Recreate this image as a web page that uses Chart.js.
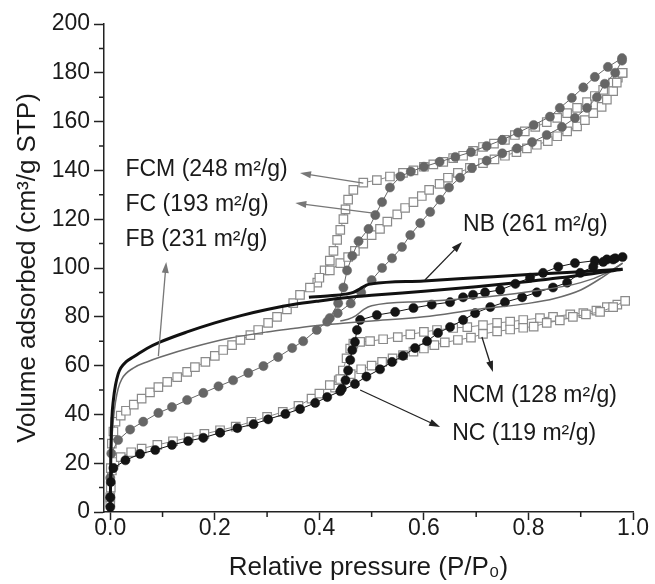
<!DOCTYPE html>
<html>
<head>
<meta charset="utf-8">
<script src="https://cdn.jsdelivr.net/npm/chart.js@4"></script>
<style>
  html, body { margin: 0; padding: 0; background: #fff; }
  canvas { display: block; }
</style>
</head>
<body>
<canvas id="isotherm" width="655" height="584"></canvas>
<script>
// [P/P0, volume adsorbed], one array per branch
const fcmAds = [[0, 6], [0.001, 18], [0.003, 28], [0.006, 33], [0.01, 37], [0.02, 39.5], [0.03, 41.5], [0.045, 44], [0.06, 46.5], [0.076, 49], [0.092, 51.2], [0.109, 53.3], [0.128, 55.3], [0.147, 57.4], [0.162, 59.4], [0.182, 61.5], [0.2, 64], [0.216, 66.4], [0.233, 68.4], [0.249, 70.5], [0.268, 72.5], [0.283, 74.6], [0.302, 77.5], [0.319, 80], [0.338, 83], [0.35, 85.6], [0.363, 89], [0.382, 92], [0.4, 96], [0.42, 99], [0.44, 102], [0.455, 104.5], [0.468, 107], [0.484, 110], [0.5, 113.5], [0.516, 116], [0.53, 119], [0.549, 122], [0.564, 124.6], [0.58, 127], [0.596, 129.5], [0.61, 132], [0.63, 134.5], [0.646, 137], [0.665, 139], [0.688, 141], [0.713, 143], [0.735, 144.5], [0.755, 146], [0.777, 147.5], [0.797, 149], [0.816, 150.5], [0.837, 152], [0.855, 154], [0.874, 156], [0.893, 158], [0.908, 160.6], [0.924, 163.5], [0.94, 166], [0.95, 169], [0.962, 172.5], [0.969, 176], [0.98, 180]];
const fcmDes = [[0.396, 94], [0.41, 99], [0.42, 103], [0.427, 107], [0.434, 111.5], [0.44, 115.6], [0.446, 120], [0.45, 124], [0.455, 128], [0.465, 132], [0.484, 135], [0.51, 136], [0.535, 137.5], [0.56, 139], [0.58, 140], [0.6, 141.5], [0.618, 142.5], [0.637, 143.5], [0.656, 145], [0.675, 146], [0.694, 148], [0.713, 149.6], [0.734, 151], [0.755, 152.5], [0.774, 154.5], [0.793, 156], [0.813, 157.8], [0.835, 159.8], [0.855, 161.5], [0.874, 163.5], [0.893, 165.6], [0.912, 168], [0.927, 170.5], [0.943, 173], [0.962, 176], [0.971, 178], [0.98, 180]];

const fcAds = [[0, 6], [0, 14], [0.002, 24], [0.015, 29.5], [0.038, 33.8], [0.063, 37], [0.092, 40.6], [0.118, 43], [0.147, 45.9], [0.178, 48.8], [0.207, 51.5], [0.235, 54], [0.264, 57], [0.293, 59.8], [0.321, 63.5], [0.348, 67.2], [0.369, 70], [0.395, 74.6], [0.415, 78], [0.435, 81.5], [0.46, 85.5], [0.48, 90], [0.5, 95], [0.52, 100], [0.539, 104], [0.558, 108.6], [0.574, 113.5], [0.593, 118.4], [0.612, 123], [0.631, 128], [0.648, 133], [0.669, 137], [0.692, 141], [0.72, 144], [0.75, 147], [0.778, 149], [0.807, 151.6], [0.835, 154.5], [0.864, 157.8], [0.889, 161.5], [0.912, 165.6], [0.931, 170], [0.946, 175.5], [0.966, 180], [0.979, 185]];
const fcDes = [[0.42, 79.5], [0.436, 85.6], [0.446, 92], [0.453, 99], [0.463, 105], [0.475, 111], [0.494, 116], [0.507, 121.7], [0.52, 127], [0.535, 133], [0.555, 137.5], [0.575, 139.5], [0.6, 141.5], [0.63, 143.5], [0.66, 145.5], [0.69, 147.5], [0.72, 150], [0.75, 152.5], [0.78, 155.5], [0.81, 158.6], [0.841, 162], [0.86, 165.6], [0.883, 169.7], [0.905, 174], [0.927, 178.3], [0.952, 182.4], [0.979, 186]];

const ncAds = [[0, 2], [0, 6], [0.001, 12.3], [0.006, 18], [0.029, 21.2], [0.057, 23.8], [0.086, 25.4], [0.118, 27.5], [0.149, 29.1], [0.178, 30.4], [0.21, 32.5], [0.243, 34.4], [0.274, 36], [0.302, 38], [0.335, 40.2], [0.363, 42.2], [0.392, 44.7], [0.415, 47.1], [0.44, 49.5], [0.468, 52.5], [0.49, 55.5], [0.516, 58.5], [0.539, 61.5], [0.56, 64], [0.583, 67.2], [0.606, 70], [0.627, 73.4], [0.65, 75.8], [0.675, 78.7], [0.698, 81.5], [0.727, 84], [0.755, 86], [0.788, 88], [0.816, 90], [0.847, 92], [0.874, 94], [0.899, 98], [0.924, 100.5], [0.943, 102.5], [0.962, 103.5], [0.98, 104.5]];
const ncDes = [[0.443, 50.5], [0.45, 54], [0.455, 58], [0.459, 62.3], [0.463, 66.4], [0.468, 69.7], [0.472, 74.6], [0.478, 78.7], [0.51, 80.7], [0.545, 82], [0.58, 83.6], [0.615, 85], [0.65, 86], [0.675, 88], [0.694, 89], [0.717, 90], [0.746, 91], [0.775, 93.5], [0.803, 96], [0.828, 98], [0.857, 100.5], [0.889, 102], [0.927, 103], [0.95, 103.5], [0.966, 104]];

const ncmAds = [[0, 4], [0.001, 10], [0.003, 17], [0.008, 20.5], [0.02, 22.5], [0.04, 24.5], [0.06, 26], [0.09, 27.5], [0.12, 29], [0.15, 30.5], [0.18, 32], [0.21, 33.5], [0.24, 35], [0.27, 37], [0.3, 39], [0.33, 41], [0.36, 43.5], [0.385, 46.5], [0.4, 48.5], [0.42, 52], [0.44, 54.5], [0.46, 56.5], [0.48, 58.5], [0.5, 60], [0.52, 61.5], [0.54, 63], [0.56, 64.3], [0.58, 65.7], [0.6, 67], [0.62, 68.4], [0.64, 69.5], [0.665, 70.5], [0.69, 71.5], [0.713, 73], [0.74, 74], [0.765, 74.8], [0.79, 75.5], [0.81, 76], [0.835, 77.5], [0.86, 78.5], [0.885, 80], [0.91, 81], [0.937, 82], [0.962, 84], [0.985, 86.5]];
const ncmDes = [[0.43, 51], [0.437, 54], [0.445, 58], [0.452, 63], [0.459, 67], [0.465, 69], [0.478, 69.7], [0.497, 70], [0.522, 70.8], [0.55, 71.7], [0.574, 72.8], [0.6, 73.8], [0.625, 74.6], [0.656, 75.4], [0.683, 75.8], [0.713, 76.6], [0.74, 77.5], [0.765, 78], [0.79, 78.7], [0.822, 79.5], [0.847, 80], [0.88, 81], [0.905, 81.5], [0.93, 82.5], [0.95, 84], [0.97, 85]];

const nbAds = [[0, 0], [0.001, 22], [0.003, 38], [0.006, 46], [0.01, 52], [0.015, 56.5], [0.02, 59], [0.03, 61.5], [0.044, 63.5], [0.07, 67], [0.096, 69.7], [0.147, 73.8], [0.2, 77.5], [0.25, 80.5], [0.3, 83], [0.35, 85], [0.4, 86.5], [0.45, 87.8], [0.5, 88.8], [0.6, 90.5], [0.7, 92.3], [0.8, 94.5], [0.9, 97], [0.98, 99.5]];
const nbDes = [[0.38, 88], [0.42, 88.6], [0.45, 89.3], [0.465, 90], [0.478, 91.5], [0.49, 93], [0.5, 93.5], [0.6, 94.7], [0.7, 96], [0.8, 97.3], [0.9, 98.5], [0.98, 99.5]];

const fbAds = [[0, 0], [0.001, 15], [0.003, 29], [0.006, 38], [0.01, 45], [0.015, 50.5], [0.022, 54.5], [0.044, 59], [0.07, 61.5], [0.096, 63.5], [0.159, 67.6], [0.23, 71.3], [0.3, 73.8], [0.35, 75.2], [0.4, 76.5], [0.45, 77.5], [0.5, 78.3], [0.6, 80], [0.7, 83], [0.8, 85.5], [0.85, 87.5], [0.9, 91], [0.94, 96], [0.98, 102]];
const fbDes = [[0.44, 78.3], [0.455, 79], [0.47, 80.5], [0.485, 83], [0.5, 84.5], [0.6, 86.3], [0.7, 87.8], [0.8, 90.3], [0.9, 94], [0.95, 98], [0.98, 102]];

const xTicks = [0, 0.2, 0.4, 0.6, 0.8, 1.0];
const yTicks = [0, 20, 40, 60, 80, 100, 120, 140, 160, 180, 200];

// sample labels: text, where it starts, arrow tail on the curve, arrow head
const notes = [
    { text: 'FCM (248 m\u00b2/g)', at: [0.029, 137.7], tail: [0.484, 134.8], head: [0.363, 138.9], color: '#777' },
    { text: 'FC (193 m\u00b2/g)', at: [0.029, 123.4], tail: [0.503, 122.5], head: [0.354, 126.6], color: '#777' },
    { text: 'FB (231 m\u00b2/g)', at: [0.029, 109], tail: [0.092, 63.9], head: [0.107, 102.5], color: '#777' },
    { text: 'NB (261 m\u00b2/g)', at: [0.675, 115.2], tail: [0.602, 95.1], head: [0.673, 110.7], color: '#222' },
    { text: 'NCM (128 m\u00b2/g)', at: [0.654, 45.1], tail: [0.711, 71.7], head: [0.732, 57.4], color: '#222' },
    { text: 'NC (119 m\u00b2/g)', at: [0.654, 29.5], tail: [0.478, 50], head: [0.631, 34.8], color: '#222' }
];

const FONT = "'Liberation Sans', Arial, sans-serif";

function pts(arr) {
    return arr.map(p => ({ x: p[0], y: p[1] }));
}

function squares(arr) {
    return {
        data: pts(arr), showLine: true, tension: 0, clip: false,
        borderColor: '#8a8a8a', borderWidth: 1,
        pointStyle: 'rect', pointRadius: 6, pointBorderWidth: 1.2,
        pointBackgroundColor: '#fff', pointBorderColor: '#8a8a8a'
    };
}

function circles(arr, color) {
    return {
        data: pts(arr), showLine: true, tension: 0, clip: false,
        borderColor: color, borderWidth: 1,
        pointStyle: 'circle', pointRadius: 4.6, pointBorderWidth: 0.5,
        pointBackgroundColor: color, pointBorderColor: color
    };
}

function curve(arr, color, width) {
    return {
        data: pts(arr), showLine: true, clip: false,
        cubicInterpolationMode: 'monotone',
        borderColor: color, borderWidth: width, pointRadius: 0
    };
}

const extras = {
    id: 'extras',
    afterDraw(chart) {
        const ctx = chart.ctx;
        const x = chart.scales.x;
        const y = chart.scales.y;
        ctx.save();

        // minor ticks
        ctx.strokeStyle = '#222';
        ctx.lineWidth = 1.5;
        ctx.beginPath();
        for (let v = 10; v < 200; v += 20) {
            const py = y.getPixelForValue(v);
            ctx.moveTo(x.left, py);
            ctx.lineTo(x.left - 5, py);
        }
        for (let v = 0.1; v < 1; v += 0.2) {
            const px = x.getPixelForValue(v);
            ctx.moveTo(px, y.bottom);
            ctx.lineTo(px, y.bottom + 5);
        }
        ctx.stroke();

        // labels with arrows
        ctx.font = '23px ' + FONT;
        ctx.textBaseline = 'alphabetic';
        ctx.textAlign = 'left';
        notes.forEach(n => {
            const tx = x.getPixelForValue(n.tail[0]), ty = y.getPixelForValue(n.tail[1]);
            const hx = x.getPixelForValue(n.head[0]), hy = y.getPixelForValue(n.head[1]);
            const ang = Math.atan2(hy - ty, hx - tx);
            ctx.strokeStyle = n.color;
            ctx.fillStyle = n.color;
            ctx.lineWidth = 1.3;
            ctx.beginPath();
            ctx.moveTo(tx, ty);
            ctx.lineTo(hx - 8 * Math.cos(ang), hy - 8 * Math.sin(ang));
            ctx.stroke();
            ctx.beginPath();
            ctx.moveTo(hx, hy);
            ctx.lineTo(hx - 11 * Math.cos(ang) + 3.5 * Math.sin(ang), hy - 11 * Math.sin(ang) - 3.5 * Math.cos(ang));
            ctx.lineTo(hx - 11 * Math.cos(ang) - 3.5 * Math.sin(ang), hy - 11 * Math.sin(ang) + 3.5 * Math.cos(ang));
            ctx.closePath();
            ctx.fill();

            ctx.fillStyle = '#1a1a1a';
            ctx.fillText(n.text, x.getPixelForValue(n.at[0]), y.getPixelForValue(n.at[1]));
        });
        ctx.restore();
    }
};

new Chart(document.getElementById('isotherm'), {
    type: 'scatter',
    data: {
        datasets: [
            curve(nbAds, '#111', 3),
            curve(nbDes, '#111', 3),
            curve(fbAds, '#6a6a6a', 1.5),
            curve(fbDes, '#6a6a6a', 1.5),
            circles(ncAds, '#141414'),
            circles(ncDes, '#141414'),
            circles(fcAds, '#666'),
            circles(fcDes, '#666'),
            squares(fcmAds),
            squares(fcmDes),
            squares(ncmAds),
            squares(ncmDes)
        ]
    },
    options: {
        responsive: false,
        animation: false,
        layout: { padding: { top: 24, right: 22, left: 0, bottom: 0 } },
        plugins: {
            legend: { display: false },
            tooltip: { enabled: false }
        },
        scales: {
            x: {
                type: 'linear',
                min: -0.012,
                max: 1.0,
                afterFit: s => { s.height = 72; },
                afterBuildTicks: s => { s.ticks = xTicks.map(v => ({ value: v })); },
                border: { display: true, color: '#222', width: 1.5 },
                grid: { drawOnChartArea: false, drawTicks: true, tickLength: 8, tickColor: '#222', tickWidth: 1.5 },
                ticks: {
                    padding: -3,
                    color: '#1a1a1a',
                    font: { family: FONT, size: 23, lineHeight: 1 },
                    callback: v => v.toFixed(1)
                },
                title: {
                    display: true,
                    text: 'Relative pressure (P/P\u2080)',
                    color: '#1a1a1a',
                    font: { family: FONT, size: 26 },
                    padding: { top: 0, bottom: 1 }
                }
            },
            y: {
                type: 'linear',
                min: 0,
                max: 200,
                afterFit: s => { s.width = 104; },
                afterBuildTicks: s => { s.ticks = yTicks.map(v => ({ value: v })); },
                border: { display: true, color: '#222', width: 1.5 },
                grid: { drawOnChartArea: false, drawTicks: true, tickLength: 10, tickColor: '#222', tickWidth: 1.5 },
                ticks: {
                    padding: 4,
                    color: '#1a1a1a',
                    font: { family: FONT, size: 23 }
                },
                title: {
                    display: true,
                    text: 'Volume adsorbed (cm\u00b3/g STP)',
                    color: '#1a1a1a',
                    font: { family: FONT, size: 26 },
                    padding: { top: 12, bottom: 0 }
                }
            }
        }
    },
    plugins: [extras]
});
</script>
</body>
</html>
